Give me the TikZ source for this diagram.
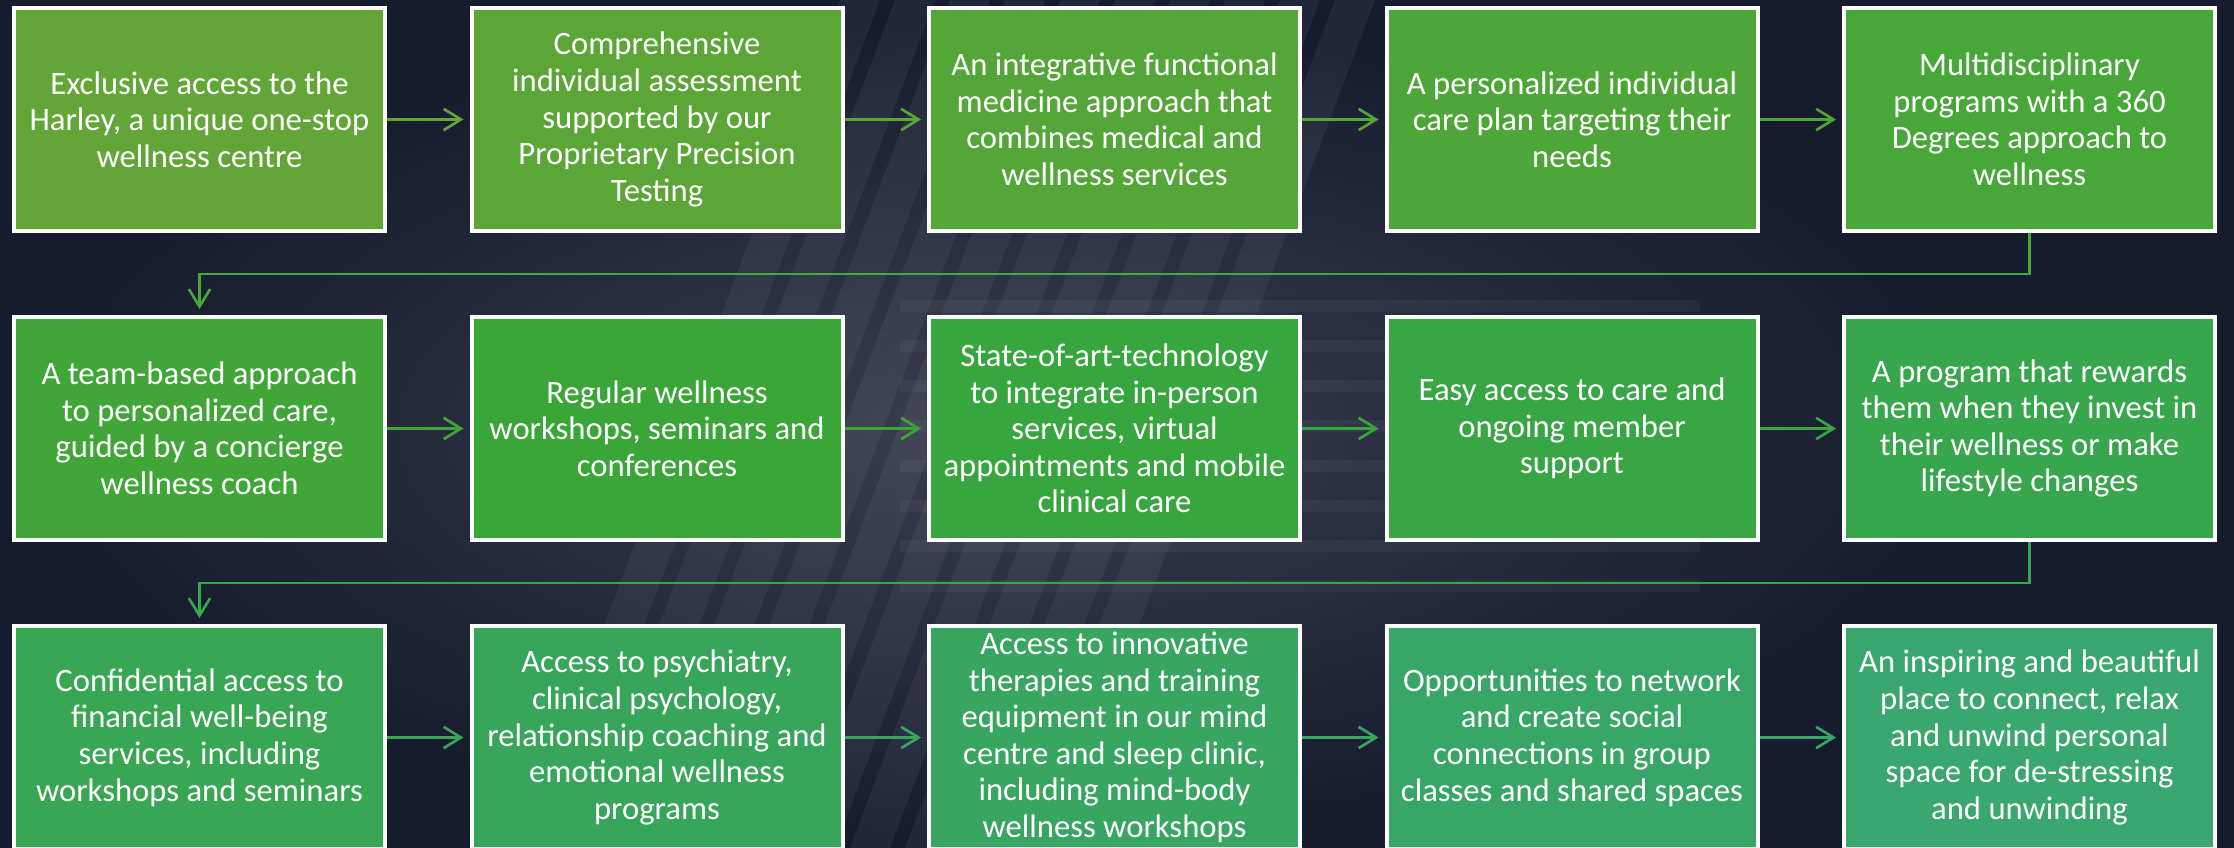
\documentclass[tikz,border=0pt]{standalone}
\usepackage{fontspec}
\setmainfont{Carlito}
\usetikzlibrary{arrows.meta}
\definecolor{c0}{RGB}{99,166,56}
\definecolor{c1}{RGB}{92,166,56}
\definecolor{c2}{RGB}{85,166,56}
\definecolor{c3}{RGB}{78,166,56}
\definecolor{c4}{RGB}{71,167,56}
\definecolor{c5}{RGB}{65,166,56}
\definecolor{c6}{RGB}{58,166,56}
\definecolor{c7}{RGB}{56,166,62}
\definecolor{c8}{RGB}{56,166,69}
\definecolor{c9}{RGB}{56,166,76}
\definecolor{c10}{RGB}{56,166,83}
\definecolor{c11}{RGB}{56,166,90}
\definecolor{c12}{RGB}{56,166,96}
\definecolor{c13}{RGB}{56,166,103}
\definecolor{c14}{RGB}{57,167,110}
\definecolor{bgdark}{RGB}{22,27,46}
\definecolor{bgmid}{RGB}{62,66,84}
\tikzset{
  bx/.style={draw=white, line width=3pt, minimum width=278.25pt, minimum height=167.25pt,
    text=white, align=center, inner sep=0pt, font=\fontsize{24.5}{27.4}\selectfont},
  ar/.style={-{Straight Barb[length=13pt,width=16pt]}, line width=2pt, shorten >=4.5pt},
}
\begin{document}
\begin{tikzpicture}[x=0.75pt,y=-0.75pt]
\path[use as bounding box] (0,0) rectangle (2234,848);
\clip (0,0) rectangle (2234,848);
\fill[bgdark] (0,0) rectangle (2234,848);
\shade[inner color=bgmid, outer color=bgdark, opacity=0.9] (1000,430) ellipse [x radius=1000, y radius=420];
% faint stripes of the background photo
\foreach \s in {0,1,...,9}{
  \fill[white, opacity=0.05] (520+\s*55,848) -- (560+\s*55,848) -- (880+\s*55,0) -- (840+\s*55,0) -- cycle;
}
\foreach \s in {0,1,...,7}{
  \fill[white, opacity=0.04] (900,300+\s*40) rectangle (1700,312+\s*40);
}
% row 1
\node[bx, fill=c0] (n0) at (199.5,119.5) {Exclusive access to the\\Harley, a unique one-stop\\wellness centre};
\node[bx, fill=c1] (n1) at (657,119.5) {Comprehensive\\individual assessment\\supported by our\\Proprietary Precision\\Testing};
\node[bx, fill=c2] (n2) at (1114.5,119.5) {An integrative functional\\medicine approach that\\combines medical and\\wellness services};
\node[bx, fill=c3] (n3) at (1572,119.5) {A personalized individual\\care plan targeting their\\needs};
\node[bx, fill=c4] (n4) at (2029.5,119.5) {Multidisciplinary\\programs with a 360\\Degrees approach to\\wellness};
% row 2
\node[bx, fill=c5] (n5) at (199.5,428.5) {A team-based approach\\to personalized care,\\guided by a concierge\\wellness coach};
\node[bx, fill=c6] (n6) at (657,428.5) {Regular wellness\\workshops, seminars and\\conferences};
\node[bx, fill=c7] (n7) at (1114.5,428.5) {State-of-art-technology\\to integrate in-person\\services, virtual\\appointments and mobile\\clinical care};
\node[bx, fill=c8] (n8) at (1572,428.5) {Easy access to care and\\ongoing member\\support};
\node[bx, fill=c9] (n9) at (2029.5,428.5) {A program that rewards\\them when they invest in\\their wellness or make\\lifestyle changes};
% row 3
\node[bx, fill=c10] (n10) at (199.5,737.5) {Confidential access to\\financial well-being\\services, including\\workshops and seminars};
\node[bx, fill=c11] (n11) at (657,737.5) {Access to psychiatry,\\clinical psychology,\\relationship coaching and\\emotional wellness\\programs};
\node[bx, fill=c12] (n12) at (1114.5,737.5) {Access to innovative\\therapies and training\\equipment in our mind\\centre and sleep clinic,\\including mind-body\\wellness workshops};
\node[bx, fill=c13] (n13) at (1572,737.5) {Opportunities to network\\and create social\\connections in group\\classes and shared spaces};
\node[bx, fill=c14] (n14) at (2029.5,737.5) {An inspiring and beautiful\\place to connect, relax\\and unwind personal\\space for de-stressing\\and unwinding};
% connectors
\draw[ar, draw=c0] (n0.east) -- (n1.west);
\draw[ar, draw=c1] (n1.east) -- (n2.west);
\draw[ar, draw=c2] (n2.east) -- (n3.west);
\draw[ar, draw=c3] (n3.east) -- (n4.west);
\coordinate (k1) at (0,274);
\coordinate (k2) at (0,583);
\draw[ar, draw=c4] (n4.south) -- (n4.south |- k1) -| (n5.north);
\draw[ar, draw=c5] (n5.east) -- (n6.west);
\draw[ar, draw=c6] (n6.east) -- (n7.west);
\draw[ar, draw=c7] (n7.east) -- (n8.west);
\draw[ar, draw=c8] (n8.east) -- (n9.west);
\draw[ar, draw=c9] (n9.south) -- (n9.south |- k2) -| (n10.north);
\draw[ar, draw=c10] (n10.east) -- (n11.west);
\draw[ar, draw=c11] (n11.east) -- (n12.west);
\draw[ar, draw=c12] (n12.east) -- (n13.west);
\draw[ar, draw=c13] (n13.east) -- (n14.west);
\end{tikzpicture}
\end{document}
